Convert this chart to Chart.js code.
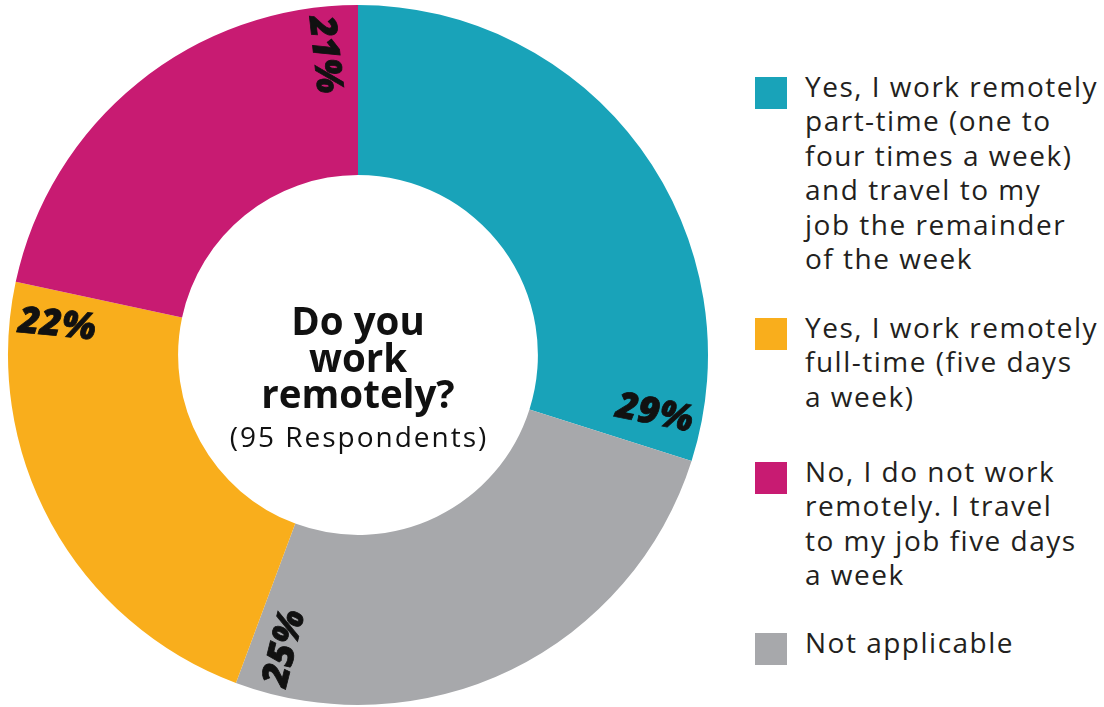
<!DOCTYPE html>
<html>
<head>
<meta charset="utf-8">
<script src="https://cdn.jsdelivr.net/npm/chart.js@4/dist/chart.umd.min.js"></script>
<style>
  html, body { margin: 0; padding: 0; background: #fff; }
  body { width: 1104px; height: 707px; position: relative; overflow: hidden; font-family: "Open Sans", sans-serif; }
  #wrap { position: absolute; left: 0; top: 0; width: 716px; height: 707px; }
  #legend { position: absolute; left: 755px; top: 0; width: 349px; }
  .item { position: absolute; left: 0; width: 349px; }
  .sw { position: absolute; left: 0; top: 0; width: 32px; height: 32px; }
  .txt { position: absolute; left: 50px; top: -8px; font-size: 28px; letter-spacing: 1.5px; line-height: 34.4px; color: #231F20; white-space: nowrap; }
</style>
</head>
<body>
<div id="wrap"><canvas id="chart" width="716" height="707"></canvas></div>
<div id="legend"></div>
<script>
// Survey answers, clockwise from twelve o'clock
const categories = [
  "Yes, I work remotely part-time (one to four times a week) and travel to my job the remainder of the week",
  "Not applicable",
  "Yes, I work remotely full-time (five days a week)",
  "No, I do not work remotely. I travel to my job five days a week"
];
const percentValues = [29, 25, 22, 21];
const sliceColors = ["#19A3B9", "#A7A8AB", "#F9AE1C", "#C81B72"];

// Legend order and line breaks
const legendOrder = [0, 2, 3, 1];
const legendLines = [
  ["Yes, I work remotely", "part-time (one to", "four times a week)", "and travel to my", "job the remainder", "of the week"],
  ["Not applicable"],
  ["Yes, I work remotely", "full-time (five days", "a week)"],
  ["No, I do not work", "remotely. I travel", "to my job five days", "a week"]
];
const legendTops = [77, 318, 462, 633];

const centerTitle = ["Do you", "work", "remotely?"];
const centerSub = "(95 Respondents)";

// HTML legend
const legend = document.getElementById("legend");
legendOrder.forEach((idx, k) => {
  const item = document.createElement("div");
  item.className = "item";
  item.style.top = legendTops[k] + "px";
  const sw = document.createElement("div");
  sw.className = "sw";
  sw.style.background = sliceColors[idx];
  const txt = document.createElement("div");
  txt.className = "txt";
  txt.innerHTML = legendLines[idx].join("<br>");
  item.appendChild(sw);
  item.appendChild(txt);
  legend.appendChild(item);
});

// Percentage labels set along the radius near the end of each slice
const sliceLabels = {
  id: "sliceLabels",
  afterDatasetsDraw(chart) {
    const ctx = chart.ctx;
    const meta = chart.getDatasetMeta(0);
    ctx.save();
    ctx.font = "italic 800 37px 'Open Sans', sans-serif";
    ctx.fillStyle = "#111";
    ctx.strokeStyle = "#111";
    ctx.lineWidth = 0.8;
    ctx.textAlign = "center";
    ctx.textBaseline = "middle";
    meta.data.forEach((arc, i) => {
      const p = arc.getProps(["x", "y", "endAngle", "innerRadius", "outerRadius"], true);
      const a = p.endAngle - 0.112;
      const r = p.innerRadius + 0.72 * (p.outerRadius - p.innerRadius);
      const x = p.x + r * Math.cos(a);
      const y = p.y + r * Math.sin(a);
      let rot = a;
      if (Math.cos(rot) < 0) rot += Math.PI;
      ctx.save();
      ctx.translate(x, y);
      ctx.rotate(rot);
      const s = percentValues[i] + "%";
      ctx.fillText(s, 0, 0);
      ctx.strokeText(s, 0, 0);
      ctx.restore();
    });
    ctx.restore();
  }
};

// Question text in the hole
const centerText = {
  id: "centerText",
  afterDatasetsDraw(chart) {
    const ctx = chart.ctx;
    const meta = chart.getDatasetMeta(0);
    const cx = meta.data[0].x, cy = meta.data[0].y;
    ctx.save();
    ctx.fillStyle = "#111";
    ctx.textAlign = "center";
    ctx.textBaseline = "alphabetic";
    ctx.font = "bold 38.5px 'Open Sans', sans-serif";
    const bases = [-20, 17, 53];
    centerTitle.forEach((t, i) => ctx.fillText(t, cx, cy + bases[i]));
    ctx.font = "28px 'Open Sans', sans-serif";
    if ("letterSpacing" in ctx) ctx.letterSpacing = "2px";
    ctx.fillText(centerSub, cx + 1, cy + 92);
    ctx.restore();
  }
};

new Chart(document.getElementById("chart"), {
  type: "doughnut",
  data: {
    labels: categories,
    datasets: [{
      data: percentValues,
      backgroundColor: sliceColors,
      borderWidth: 0,
      hoverOffset: 0
    }]
  },
  options: {
    responsive: false,
    animation: false,
    cutout: "51.4%",
    layout: { padding: { top: 5, bottom: 2, left: 8, right: 8 } },
    plugins: {
      legend: { display: false },
      tooltip: { enabled: false }
    }
  },
  plugins: [sliceLabels, centerText]
});
</script>
</body>
</html>
